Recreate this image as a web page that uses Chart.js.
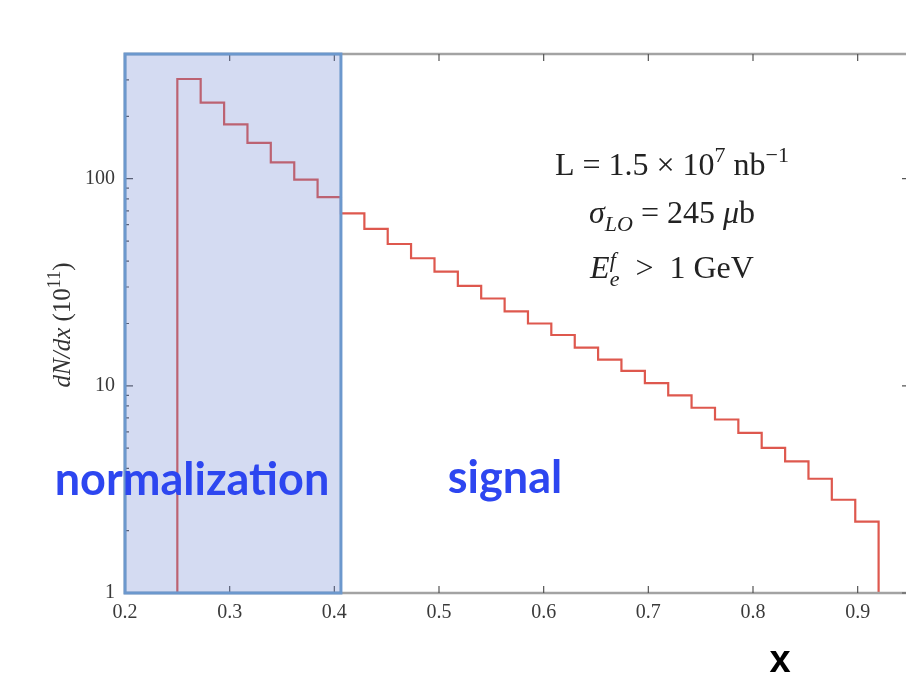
<!DOCTYPE html>
<html>
<head>
<meta charset="utf-8">
<script src="https://cdn.jsdelivr.net/npm/chart.js@4/dist/chart.umd.min.js"></script>
<style>
  html, body { margin: 0; padding: 0; background: #fff; }
  #wrap { width: 906px; height: 686px; overflow: hidden; position: relative; }
</style>
</head>
<body>
<div id="wrap"><canvas id="myChart" width="920" height="686"></canvas></div>
<script>
'use strict';

// histogram bin edges (x) and heights dN/dx in units of 10^11
const binEdges = [0.25, 0.2723, 0.2947, 0.3170, 0.3393, 0.3617, 0.3840, 0.4063, 0.4287, 0.4510,
  0.4733, 0.4957, 0.5180, 0.5403, 0.5627, 0.5850, 0.6073, 0.6297, 0.6520, 0.6743,
  0.6967, 0.7190, 0.7413, 0.7637, 0.7860, 0.8083, 0.8307, 0.8530, 0.8753, 0.8977, 0.9200];
const dNdx = [303, 233, 183, 149, 120, 99, 81.5, 68, 57.3, 48.4,
  41.3, 35.6, 30.4, 26.4, 22.9, 20.0, 17.6, 15.3, 13.4, 11.8,
  10.3, 9.0, 7.84, 6.88, 5.93, 5.02, 4.32, 3.56, 2.82, 2.21];

const xTickVals = [0.2, 0.3, 0.4, 0.5, 0.6, 0.7, 0.8, 0.9];
const yTickVals = [1, 10, 100];
const yMinorVals = [2, 3, 4, 5, 6, 7, 8, 9, 20, 30, 40, 50, 60, 70, 80, 90, 200, 300, 400];
const xRange = [0.2, 0.95];
const yRange = [1, 400];
const normRange = [0.2, 0.4063];

const serif = '"Liberation Serif", "DejaVu Serif", serif';

// step line ('after' = vertical at previous x, then across): each point is a bin's right edge
const histPoints = [{ x: binEdges[0], y: yRange[0] }];
dNdx.forEach((v, i) => histPoints.push({ x: binEdges[i + 1], y: v }));
histPoints.push({ x: binEdges[binEdges.length - 1], y: yRange[0] });

// draws a row of text pieces (italic / sub / sup) centred on cx
const drawRuns = (ctx, runs, cx, baseY, size) => {
  const fontOf = r => `${r.it ? 'italic ' : ''}${Math.round(size * (r.s || 1))}px ${serif}`;
  let total = 0;
  runs.forEach(r => {
    ctx.font = fontOf(r);
    if (!r.stack) total += ctx.measureText(r.t).width;
  });
  let x = cx - total / 2;
  runs.forEach(r => {
    ctx.font = fontOf(r);
    ctx.fillText(r.t, x, baseY + (r.dy || 0) * size);
    if (!r.stack) x += ctx.measureText(r.t).width;
  });
};

const decorPlugin = {
  id: 'decor',
  afterDraw(chart) {
    const { ctx, chartArea: a, scales: { x, y } } = chart;
    ctx.save();

    // frame
    ctx.strokeStyle = '#a3a3a3';
    ctx.lineWidth = 2.5;
    ctx.strokeRect(a.left, a.top, a.right - a.left, a.bottom - a.top);

    // inward ticks
    ctx.strokeStyle = '#555';
    ctx.lineWidth = 1.2;
    ctx.beginPath();
    xTickVals.forEach(v => {
      const px = x.getPixelForValue(v);
      ctx.moveTo(px, a.bottom); ctx.lineTo(px, a.bottom - 7);
      ctx.moveTo(px, a.top); ctx.lineTo(px, a.top + 7);
    });
    yTickVals.forEach(v => {
      const py = y.getPixelForValue(v);
      ctx.moveTo(a.left, py); ctx.lineTo(a.left + 8, py);
      ctx.moveTo(a.right, py); ctx.lineTo(a.right - 8, py);
    });
    yMinorVals.forEach(v => {
      const py = y.getPixelForValue(v);
      ctx.moveTo(a.left, py); ctx.lineTo(a.left + 4, py);
      ctx.moveTo(a.right, py); ctx.lineTo(a.right - 4, py);
    });
    ctx.stroke();

    // normalization box
    const bx0 = x.getPixelForValue(normRange[0]);
    const bx1 = x.getPixelForValue(normRange[1]);
    ctx.fillStyle = 'rgba(100,125,210,0.28)';
    ctx.fillRect(bx0, a.top, bx1 - bx0, a.bottom - a.top);
    ctx.strokeStyle = 'rgb(108,152,205)';
    ctx.lineWidth = 3;
    ctx.strokeRect(bx0, a.top, bx1 - bx0, a.bottom - a.top);

    // annotation
    ctx.fillStyle = '#222';
    ctx.textBaseline = 'alphabetic';
    ctx.textAlign = 'left';
    const fs = 32;
    drawRuns(ctx, [
      { t: 'L = 1.5 × 10' }, { t: '7', s: 0.7, dy: -0.4 },
      { t: ' nb' }, { t: '−1', s: 0.7, dy: -0.4 }
    ], 672, 175, fs);
    drawRuns(ctx, [
      { t: 'σ', it: true }, { t: 'LO', it: true, s: 0.7, dy: 0.25 },
      { t: ' = 245 ' }, { t: 'μ', it: true }, { t: 'b' }
    ], 672, 223, fs);
    drawRuns(ctx, [
      { t: 'E', it: true }, { t: 'f', it: true, s: 0.7, dy: -0.35, stack: true },
      { t: 'e', it: true, s: 0.7, dy: 0.25 },
      { t: '  >  1 GeV' }
    ], 672, 278, fs);

    // y axis title
    ctx.save();
    ctx.translate(62, 325);
    ctx.rotate(-Math.PI / 2);
    ctx.fillStyle = '#333';
    drawRuns(ctx, [
      { t: 'dN/dx', it: true }, { t: ' (10' }, { t: '11', s: 0.7, dy: -0.4 }, { t: ')' }
    ], 0, 8, 25);
    ctx.restore();

    // x axis title
    ctx.fillStyle = '#000';
    ctx.textAlign = 'center';
    ctx.font = 'bold 38px "Liberation Sans", Arial, sans-serif';
    ctx.fillText('x', 780, 672);

    // region labels
    ctx.fillStyle = '#2d46f0';
    ctx.font = 'bold 45px Lato, "Open Sans", sans-serif';
    ctx.fillText('normalization', 192, 495);
    ctx.fillText('signal', 505, 493);

    ctx.restore();
  }
};

const ctx = document.getElementById('myChart').getContext('2d');

const chart = new Chart(ctx, {
  type: 'line',
  data: {
    datasets: [{
      data: histPoints,
      stepped: 'after',
      borderColor: 'rgb(222,88,78)',
      borderWidth: 2.2,
      pointRadius: 0,
      fill: false
    }]
  },
  options: {
    responsive: false,
    animation: false,
    devicePixelRatio: 1,
    layout: { padding: { left: 0, top: 54, right: 10, bottom: 0 } },
    plugins: { legend: { display: false }, tooltip: { enabled: false } },
    scales: {
      x: {
        type: 'linear',
        min: xRange[0],
        max: xRange[1],
        afterBuildTicks: s => { s.ticks = xTickVals.map(v => ({ value: v })); },
        afterFit: s => { s.height = 93; },
        grid: { display: false, drawTicks: false },
        border: { display: false },
        ticks: {
          autoSkip: false,
          maxRotation: 0,
          padding: 8,
          color: '#3a3a3a',
          font: { family: serif, size: 20 },
          callback: v => v.toFixed(1)
        }
      },
      y: {
        type: 'logarithmic',
        min: yRange[0],
        max: yRange[1],
        afterBuildTicks: s => { s.ticks = yTickVals.map(v => ({ value: v })); },
        afterFit: s => { s.width = 125; },
        grid: { display: false, drawTicks: false },
        border: { display: false },
        ticks: {
          autoSkip: false,
          padding: 10,
          color: '#3a3a3a',
          font: { family: serif, size: 20 },
          callback: v => String(v)
        }
      }
    }
  },
  plugins: [decorPlugin]
});
</script>
</body>
</html>
